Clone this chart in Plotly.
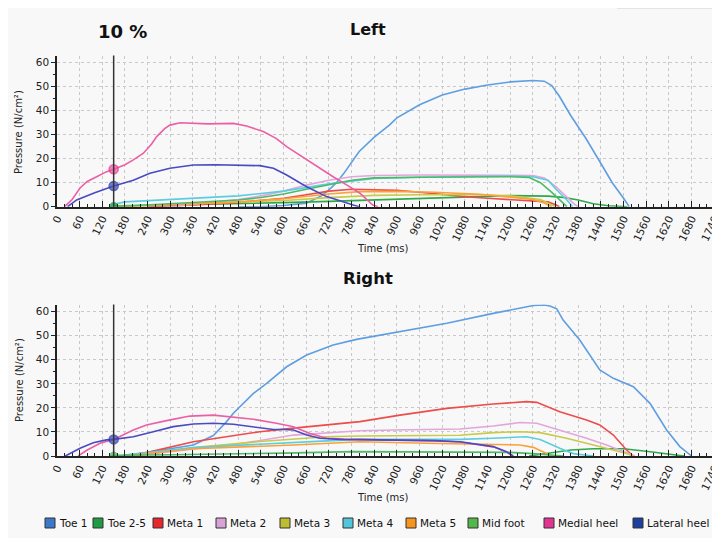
import numpy as np
import plotly.graph_objects as go

SERIES = ["Toe 1", "Toe 2-5", "Meta 1", "Meta 2", "Meta 3", "Meta 4", "Meta 5", "Mid foot", "Medial heel", "Lateral heel"]
LEGEND_COLORS = ["#3B78C9", "#1E9B45", "#E8262C", "#D8A2D6", "#BDBD2E", "#52C6D8", "#F7941D", "#52B84A", "#E43492", "#1F3F9F"]
LINE_COLORS = ["#5F9EE0", "#2FA84A", "#EE4B4B", "#E2A6DC", "#C9C94A", "#5CCDE0", "#F9A23A", "#4DBA6A", "#EC5FA4", "#4A4AC2"]
X_TICKS = list(range(0, 1741, 60))
Y_TICKS = list(range(0, 61, 10))
MARK_TIME = 150
MARK_LABEL = "10 %"

# ---- Left foot ----
L_TOE1_T = [480, 540, 600, 660, 680, 700, 720, 740, 760, 780, 800, 840, 880, 900, 960, 1020, 1080, 1140, 1200, 1260, 1290, 1310, 1330, 1360, 1400, 1440, 1470, 1500, 1515]
L_TOE1_V = [0, 0, 0.5, 1.5, 3, 4.5, 7, 10, 14, 18.5, 23, 29, 34, 37, 42.5, 46.5, 49, 50.7, 52, 52.6, 52.3, 50.5, 46, 38, 28.5, 18, 10, 3.5, 0]
L_TOE25_T = [140, 150, 300, 480, 600, 720, 800, 900, 1000, 1100, 1200, 1300, 1340, 1380, 1420, 1460, 1510]
L_TOE25_V = [0, 0.4, 0.7, 1.2, 1.7, 2.2, 2.6, 3.1, 3.8, 4.3, 4.6, 4.4, 3.9, 2.8, 1.2, 0.4, 0]
L_META1_T = [240, 360, 480, 600, 660, 720, 780, 840, 900, 960, 1020, 1080, 1140, 1200, 1260, 1300, 1320, 1330]
L_META1_V = [0, 0.7, 1.8, 3.5, 5, 6.5, 7.3, 7.2, 6.8, 6, 5, 4.2, 3.5, 3, 2.5, 2, 0.8, 0]
L_META2_T = [300, 360, 480, 540, 600, 660, 720, 780, 840, 960, 1260, 1290, 1320, 1350, 1370, 1380]
L_META2_V = [0, 1, 3, 4.5, 6.5, 9, 11, 12.5, 13, 13.2, 13, 12, 8.5, 4, 1, 0]
L_META3_T = [150, 300, 480, 600, 720, 840, 960, 1100, 1200, 1280, 1320]
L_META3_V = [0, 0.8, 1.8, 2.6, 3.8, 4.7, 5, 5.1, 4.5, 3, 0]
L_META4_T = [140, 150, 180, 300, 360, 480, 540, 600, 720, 840, 960, 1200, 1260, 1300, 1320, 1350, 1365]
L_META4_V = [0, 1, 2, 3, 3.5, 4.5, 5.5, 6.5, 9.5, 11.8, 12.3, 12.8, 12.5, 11, 7.5, 2.8, 0]
L_META5_T = [150, 240, 360, 480, 600, 720, 800, 900, 1000, 1120, 1200, 1260, 1290, 1310]
L_META5_V = [0, 0.6, 1.2, 2, 3.3, 5.3, 6.3, 6.4, 6, 5.2, 4, 3, 1.5, 0]
L_MID_T = [150, 300, 480, 540, 600, 660, 720, 780, 840, 960, 1200, 1250, 1280, 1310, 1340, 1350]
L_MID_V = [0, 1.2, 2.8, 3.8, 5.3, 7.3, 9.3, 11, 12, 12.3, 12.5, 12.2, 10, 6, 1.5, 0]
L_MED_T = [20, 40, 61, 80, 105, 130, 150, 180, 202, 228, 250, 264, 285, 299, 326, 360, 400, 467, 502, 546, 580, 608, 661, 700, 731, 770, 802, 836, 850]
L_MED_V = [0, 3, 7.8, 10.5, 12.5, 14.5, 15.6, 17.5, 19.5, 22.2, 26, 29.2, 32.5, 34, 35, 34.7, 34.5, 34.7, 33.6, 31.3, 28.5, 25, 19.5, 15.5, 12.5, 8.8, 5.6, 0.7, 0]
L_LAT_T = [28, 52, 100, 150, 202, 246, 299, 361, 420, 467, 537, 573, 608, 661, 714, 784, 800]
L_LAT_V = [0, 2.8, 5.8, 8.6, 11, 13.9, 16, 17.4, 17.5, 17.4, 17.1, 16, 13.2, 8.3, 4.2, 0.7, 0]

# ---- Right foot ----
R_TOE1_T = [180, 240, 300, 361, 414, 449, 467, 520, 555, 608, 661, 731, 793, 908, 1032, 1155, 1217, 1261, 1290, 1305, 1323, 1340, 1384, 1437, 1473, 1526, 1570, 1614, 1649, 1671, 1680]
R_TOE1_V = [0, 1.5, 3, 4.6, 8.5, 14.3, 17.8, 26, 30.2, 37.1, 42, 46.2, 48.5, 51.7, 55.2, 59.3, 61.2, 62.6, 62.8, 62.4, 61.2, 56.5, 48.2, 35.8, 32.3, 28.8, 21.9, 10.8, 3.9, 1.1, 0]
R_TOE25_T = [1250, 1300, 1360, 1420, 1500, 1560, 1620, 1660]
R_TOE25_V = [0, 1, 2.5, 3, 3, 2, 0.8, 0]
R_META1_T = [170, 240, 361, 450, 537, 620, 714, 802, 908, 1032, 1155, 1243, 1270, 1331, 1402, 1437, 1473, 1508, 1526]
R_META1_V = [0, 1.5, 5.9, 8, 10.1, 11.5, 12.9, 14.3, 17, 19.8, 21.6, 22.6, 22.3, 18.4, 15, 12.9, 8.7, 2.5, 0]
R_META2_T = [200, 361, 480, 626, 802, 890, 1067, 1155, 1226, 1270, 1331, 1402, 1455, 1490, 1517, 1530]
R_META2_V = [0, 3, 5, 8.7, 10.5, 10.8, 11.2, 12.5, 13.9, 13.6, 10.8, 7.4, 4.6, 2.5, 1, 0]
R_META3_T = [200, 361, 537, 714, 802, 1067, 1155, 1226, 1279, 1349, 1420, 1473, 1508, 1525]
R_META3_V = [0, 3.5, 6, 8, 8.3, 8.6, 9.7, 10.1, 9.7, 7.4, 4.6, 2.5, 1, 0]
R_META4_T = [170, 184, 361, 537, 714, 802, 1067, 1155, 1243, 1279, 1331, 1367, 1402, 1420]
R_META4_V = [0, 0.5, 3.5, 5, 6.3, 6.9, 6.9, 7.4, 8, 6.9, 3.2, 1, 0.3, 0]
R_META5_T = [180, 361, 626, 802, 978, 1155, 1226, 1261, 1296, 1310]
R_META5_V = [0, 3, 4.6, 5.9, 5.3, 4.9, 4.6, 3.6, 1, 0]
R_MID_T = [140, 150, 300, 480, 600, 780, 1000, 1200, 1260, 1300, 1340]
R_MID_V = [0, 0.3, 0.5, 0.8, 1.2, 1.8, 1.8, 1.5, 1, 0.4, 0]
R_MED_T = [56, 80, 114, 150, 202, 237, 290, 352, 414, 467, 520, 581, 626, 670, 714, 760, 802, 900, 1000, 1067, 1155, 1190, 1205]
R_MED_V = [0, 2.5, 5.3, 6.9, 10.8, 12.9, 14.7, 16.6, 17, 16.3, 15.3, 13.6, 12.2, 9.4, 7.4, 7, 6.8, 6.6, 6.3, 5.8, 3.8, 1.7, 0]
R_LAT_T = [22, 61, 96, 131, 150, 202, 255, 308, 361, 414, 467, 520, 573, 600, 626, 661, 696, 749, 802, 900, 1000, 1067, 1120, 1155, 1190, 1208]
R_LAT_V = [0, 3.2, 5.5, 6.7, 6.9, 8, 10.1, 12.2, 13.3, 13.6, 13.2, 12.2, 11, 11, 10.8, 8.7, 7.4, 6.9, 6.8, 6.7, 6.4, 5.9, 4.8, 3.9, 1.8, 0]

LEFT = [(L_TOE1_T, L_TOE1_V), (L_TOE25_T, L_TOE25_V), (L_META1_T, L_META1_V), (L_META2_T, L_META2_V),
        (L_META3_T, L_META3_V), (L_META4_T, L_META4_V), (L_META5_T, L_META5_V), (L_MID_T, L_MID_V),
        (L_MED_T, L_MED_V), (L_LAT_T, L_LAT_V)]
RIGHT = [(R_TOE1_T, R_TOE1_V), (R_TOE25_T, R_TOE25_V), (R_META1_T, R_META1_V), (R_META2_T, R_META2_V),
         (R_META3_T, R_META3_V), (R_META4_T, R_META4_V), (R_META5_T, R_META5_V), (R_MID_T, R_MID_V),
         (R_MED_T, R_MED_V), (R_LAT_T, R_LAT_V)]
LEFT_MARKED = ["Toe 2-5", "Medial heel", "Lateral heel"]
RIGHT_MARKED = ["Mid foot", "Lateral heel"]

# legend layout (screen pixel x of each colour box, left edge)
LEGEND_BOX_X = [45, 93, 153, 216, 280, 343, 406, 468, 544, 633]
LEGEND_Y = 523

# page body has an 8px margin: the figure starts at (8, 8) in the window
OFF = 8
W, H = 720 - OFF, 538 - OFF
FONT = "DejaVu Sans"

def px(x):
    return (x - OFF) / W

def py(y):
    return 1 - (y - OFF) / H

fig = go.Figure()

def add_panel(data, marked, xa, ya):
    for i, (t, v) in enumerate(data):
        fig.add_trace(go.Scatter(x=t, y=v, mode="lines", name=SERIES[i], showlegend=False,
                                 line=dict(color=LINE_COLORS[i], width=1.6), xaxis=xa, yaxis=ya))
    for name in marked:
        i = SERIES.index(name)
        t, v = data[i]
        val = float(np.interp(MARK_TIME, t, v, left=0, right=0))
        big = name in ("Medial heel", "Lateral heel")
        fig.add_trace(go.Scatter(x=[MARK_TIME], y=[val], mode="markers", showlegend=False,
                                 marker=dict(size=9 if big else 6, color=LINE_COLORS[i], opacity=0.75,
                                             line=dict(color=LEGEND_COLORS[i], width=1.5)),
                                 xaxis=xa, yaxis=ya))

add_panel(LEFT, LEFT_MARKED, "x", "y")
add_panel(RIGHT, RIGHT_MARKED, "x2", "y2")

xdom = [px(57), min(1.0, px(718))]
top_dom = [py(206.7), py(55.5)]
bot_dom = [py(456), py(304.5)]

def xaxis_cfg(anchor):
    return dict(domain=xdom, range=[0, 1750 * (xdom[1] - xdom[0]) / (px(718) - px(57))], anchor=anchor,
                tickvals=X_TICKS, ticktext=[str(v) for v in X_TICKS],
                tickangle=-65, tickfont=dict(family=FONT, size=10.5, color="#222"), ticks="inside", ticklen=6,
                tickcolor="#222", showline=True, linecolor="#222", linewidth=1.5, ticklabeloverflow="allow",
                showgrid=True, gridcolor="#C9C9C9", griddash="dot", gridwidth=1, zeroline=False, automargin=False,
                minor=dict(dtick=20, tick0=0, ticks="inside", ticklen=3, tickcolor="#222", showgrid=False))

def yaxis_cfg(anchor, dom):
    return dict(domain=dom, range=[0, 63], anchor=anchor, tickvals=Y_TICKS,
                tickfont=dict(family=FONT, size=10.5, color="#222"), ticks="outside", ticklen=4, tickcolor="#222",
                showline=True, linecolor="#222", linewidth=1.5, showgrid=True, gridcolor="#C9C9C9",
                griddash="dot", gridwidth=1, zeroline=False, automargin=False,
                minor=dict(dtick=5, ticks="outside", ticklen=2, tickcolor="#222", showgrid=False))

shapes = []
for xr, yr in (("x", "y"), ("x2", "y2")):
    shapes.append(dict(type="line", xref=xr, yref=yr + " domain", x0=MARK_TIME, x1=MARK_TIME, y0=0, y1=1,
                       line=dict(color="#333333", width=1.5)))
shapes.append(dict(type="rect", xref="paper", yref="paper", x0=px(617), x1=1.01, y0=py(8), y1=1.01,
                   line=dict(color="#D0D0D0", width=1), fillcolor="#F3F3F3"))

def ann(text, x, y, size, xref="paper", xanchor="center", angle=0, color="#222"):
    return dict(text=text, x=x, y=y, xref=xref, yref="paper", showarrow=False, xanchor=xanchor,
                yanchor="middle", textangle=angle, font=dict(family=FONT, size=size, color=color))

annotations = [
    ann("<b>Left</b>", px(368), py(30), 16, color="#111"),
    ann("<b>Right</b>", px(368), py(278), 16.5, color="#111"),
    ann("<b>" + MARK_LABEL + "</b>", px(122), py(32), 18, color="#111"),
    ann("Time (ms)", px(383), py(248), 10),
    ann("Time (ms)", px(383), py(497), 10),
    ann("Pressure (N/cm²)", px(19), py(132), 10, angle=-90),
    ann("Pressure (N/cm²)", px(19), py(380), 10, angle=-90),
]

# manual legend: coloured boxes + labels
for i, name in enumerate(SERIES):
    bx = LEGEND_BOX_X[i]
    shapes.append(dict(type="rect", xref="paper", yref="paper", x0=px(bx), x1=px(bx + 10),
                       y0=py(LEGEND_Y + 5), y1=py(LEGEND_Y - 5),
                       fillcolor=LEGEND_COLORS[i], line=dict(color="#333333", width=1)))
    annotations.append(ann(name, px(bx + 12), py(LEGEND_Y), 10.5, xanchor="left", color="#111"))

fig.update_layout(
    width=W, height=H, margin=dict(l=0, r=0, t=0, b=0), showlegend=False,
    paper_bgcolor="#F8F8F8", plot_bgcolor="#F8F8F8",
    xaxis=xaxis_cfg("y"), yaxis=yaxis_cfg("x", top_dom),
    xaxis2=xaxis_cfg("y2"), yaxis2=yaxis_cfg("x2", bot_dom),
    shapes=shapes, annotations=annotations,
)

fig.write_html("out.html")
